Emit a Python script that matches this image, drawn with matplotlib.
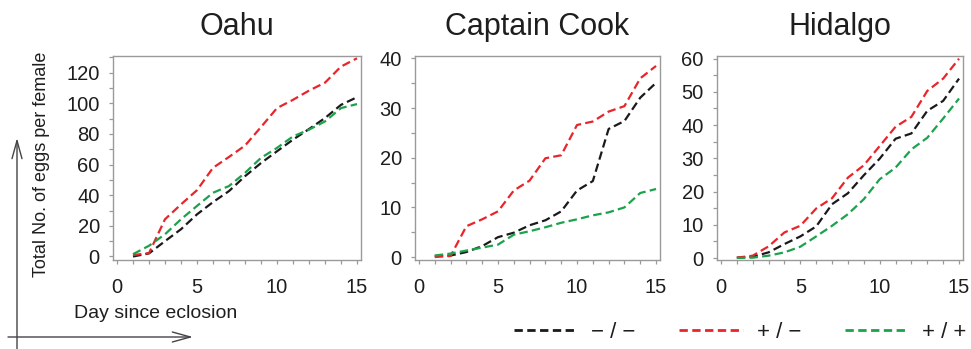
import numpy as np
import matplotlib
matplotlib.use("Agg")
import matplotlib.pyplot as plt
from matplotlib.lines import Line2D
from matplotlib.patches import FancyArrowPatch
from matplotlib.ticker import MultipleLocator, FixedLocator

plt.rcParams['font.family'] = ['Liberation Sans', 'DejaVu Sans']

# data (cumulative eggs per female, days 1..15)
days = np.arange(1, 16)
sites = ['Oahu', 'Captain Cook', 'Hidalgo']
genotypes = ['\u2212 / \u2212', '+ / \u2212', '+ / +']
xtick_vals = [0, 5, 10, 15]

oahu_mm = [0, 2, 10, 17.8, 27.5, 35.5, 42.7, 52.4, 61, 68.7, 76.3, 83.2, 90.4, 99, 104]
oahu_pm = [0.9, 2.2, 24.3, 34, 43.3, 57.9, 65, 72.4, 84.5, 96.9, 102.3, 108.3, 113.5, 124, 129.4]
oahu_pp = [1.5, 7, 14.5, 24.3, 33, 41.6, 46, 54.6, 64.4, 70.9, 78.4, 82.8, 88.2, 96.9, 99.5]

cook_mm = [0.2, 0.3, 1.0, 2.2, 4.0, 4.9, 6.4, 7.4, 9.2, 13.4, 15.3, 25.8, 27.4, 32.1, 35.1]
cook_pm = [0.0, 0.2, 6.2, 7.6, 9.2, 13.4, 15.4, 19.9, 20.5, 26.6, 27.3, 29.3, 30.4, 36.0, 38.5]
cook_pp = [0.3, 0.7, 1.3, 1.9, 2.5, 4.5, 5.2, 6.0, 6.9, 7.6, 8.4, 9.0, 10.0, 12.9, 13.7]

hid_mm = [0.1, 0.4, 1.7, 4.2, 6.5, 9.5, 16.2, 19.5, 24.9, 29.9, 35.9, 37.5, 44.3, 47.3, 54.0]
hid_pm = [0.1, 0.7, 3.5, 7.7, 9.7, 14.9, 18.0, 24.2, 27.9, 33.7, 39.5, 42.5, 50.3, 54.0, 60.0]
hid_pp = [0.0, 0.1, 0.7, 1.7, 3.4, 6.5, 9.7, 13.2, 17.7, 23.7, 27.2, 32.7, 36.2, 42.0, 48.0]

series = [
    (oahu_mm, oahu_pm, oahu_pp),
    (cook_mm, cook_pm, cook_pp),
    (hid_mm, hid_pm, hid_pp),
]
ylims = [(-2.3, 130.9), (-0.6, 40.5), (-0.6, 60.8)]
ymajor = [20, 10, 10]
yminor = [10, 5, 5]

colors = ['#1a1a1a', '#e8252b', '#1ba34c']
dash = (0, (3.8, 1.9))
spine_col = '#9a9a9a'
txt_col = '#1e1e1e'

fig = plt.figure(figsize=(9.71, 3.49), dpi=100)

# axes boxes in pixels: left, right
boxes = [(113, 361), (415, 660), (717, 963)]
W, H = 971.0, 349.0
bottom = 1 - 260 / H
height = (260 - 56) / H

for i, name in enumerate(sites):
    l, r = boxes[i]
    ax = fig.add_axes([l / W, bottom, (r - l) / W, height])
    for ys, c in zip(series[i], colors):
        ax.plot(days, ys, color=c, lw=1.6, linestyle=dash)
    ax.set_xlim(-0.25, 15.25)
    ax.xaxis.set_major_locator(FixedLocator(xtick_vals))
    ax.xaxis.set_minor_locator(MultipleLocator(1))
    ax.yaxis.set_major_locator(MultipleLocator(ymajor[i]))
    ax.yaxis.set_minor_locator(MultipleLocator(yminor[i]))
    ax.set_ylim(*ylims[i])
    for s in ax.spines.values():
        s.set_color(spine_col)
        s.set_linewidth(1.0)
    ax.tick_params(which='both', direction='out', length=3, width=0.9,
                   color=spine_col, labelcolor=txt_col, labelsize=14.5)
    ax.tick_params(axis='x', pad=10)
    ax.tick_params(axis='y', pad=6.5)
    ax.set_title(name, fontsize=22, color=txt_col, pad=15)

fig.text(41 / W, 1 - 164 / H, 'Total No. of eggs per female', rotation=90,
         ha='center', va='center', fontsize=13, color=txt_col)
fig.text(74 / W, 1 - 314 / H, 'Day since eclosion', ha='left', va='center',
         fontsize=14, color=txt_col)

# axis arrows in the lower-left corner
arrow_style = '->,head_length=13,head_width=3.6'
v_arrow = FancyArrowPatch((17 / W, 0.0), (17 / W, 1 - 138 / H),
                          transform=fig.transFigure, arrowstyle=arrow_style,
                          mutation_scale=1, color='#444444', lw=1.0,
                          shrinkA=0, shrinkB=0)
h_arrow = FancyArrowPatch((8 / W, 1 - 337 / H), (193 / W, 1 - 337 / H),
                          transform=fig.transFigure, arrowstyle=arrow_style,
                          mutation_scale=1, color='#444444', lw=1.0,
                          shrinkA=0, shrinkB=0)
fig.add_artist(v_arrow)
fig.add_artist(h_arrow)

handles = [Line2D([], [], color=c, lw=2.0, linestyle=(0, (3.0, 1.6))) for c in colors]
fig.legend(handles, genotypes, loc='center left', ncol=3, frameon=False,
           bbox_to_anchor=(514 / W, 1 - 332 / H), fontsize=16,
           handlelength=2.84, handletextpad=0.63, columnspacing=1.98,
           borderpad=0, borderaxespad=0, labelcolor=txt_col)

fig.savefig('out.png', dpi=100)
